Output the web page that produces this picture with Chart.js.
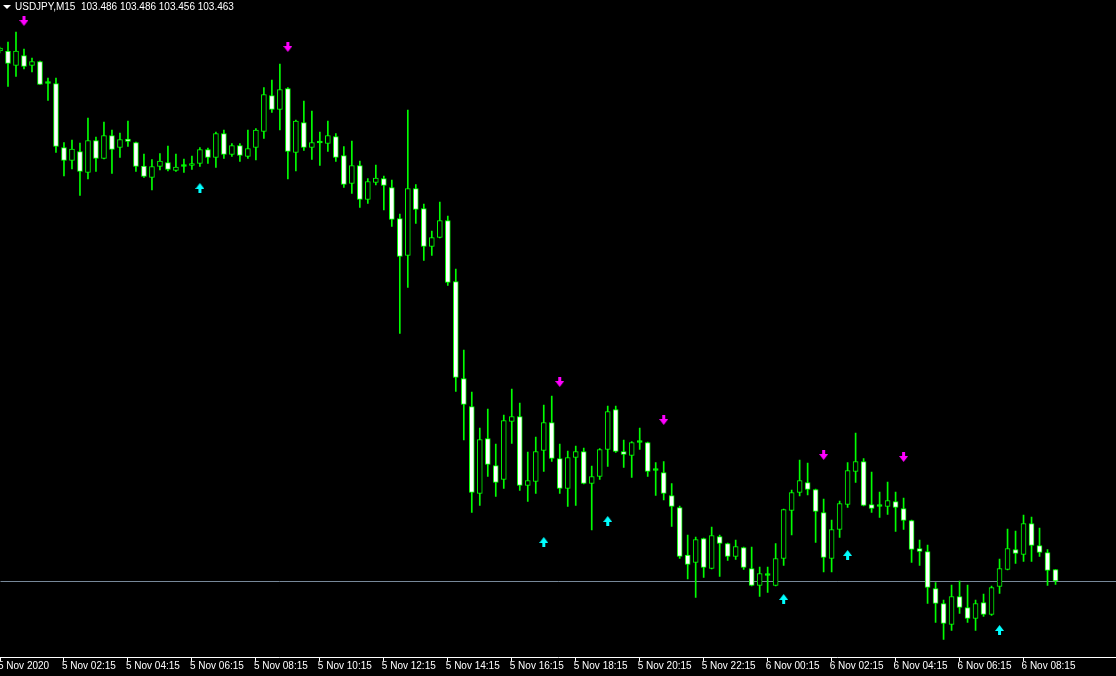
<!DOCTYPE html>
<html>
<head>
<meta charset="utf-8">
<title>USDJPY,M15</title>
<script src="https://cdn.jsdelivr.net/npm/chart.js@4.4.1/dist/chart.umd.min.js"></script>
<style>
  html, body { margin: 0; padding: 0; background: #000; overflow: hidden; }
  .chart { position: relative; width: 1116px; height: 676px; }
  .chart__header { position: absolute; left: 15px; top: 1px; color: #fff; font: 10px/12px 'Liberation Sans', Arial, sans-serif; white-space: pre; }
  .chart__menu { position: absolute; left: 3px; top: 5px; width: 0; height: 0; border-left: 4px solid transparent; border-right: 4px solid transparent; border-top: 4px solid #fff; }
</style>
</head>
<body>
<div class="chart">
  <canvas id="myChart" width="1116" height="676"></canvas>
  <span class="chart__menu"></span>
  <div class="chart__header">USDJPY,M15  103.486 103.486 103.456 103.463</div>
</div>
<script>
// M15 bars, first one (index -1) is 5 Nov 00:15
const firstBar = -1;

const opens = [
  104.523, 104.523, 104.494, 104.514, 104.494, 104.502, 104.458, 104.458, 104.330, 104.304,
  104.322, 104.280, 104.344, 104.308, 104.354, 104.330, 104.347, 104.340, 104.293, 104.270,
  104.292, 104.300, 104.284, 104.292, 104.294, 104.298, 104.326, 104.310, 104.358, 104.316,
  104.334, 104.312, 104.330, 104.362, 104.434, 104.406, 104.448, 104.320, 104.380, 104.330,
  104.339, 104.338, 104.352, 104.314, 104.258, 104.294, 104.226, 104.260, 104.268, 104.250,
  104.188, 104.114, 104.248, 104.208, 104.132, 104.150, 104.184, 104.062, 103.868, 103.812,
  103.638, 103.748, 103.694, 103.666, 103.782, 103.792, 103.654, 103.662, 103.724, 103.780,
  103.708, 103.648, 103.710, 103.722, 103.658, 103.672, 103.726, 103.806, 103.722, 103.714,
  103.740, 103.740, 103.684, 103.680, 103.634, 103.610, 103.515, 103.500, 103.548, 103.488,
  103.552, 103.538, 103.512, 103.530, 103.488, 103.454, 103.474, 103.454, 103.508, 103.604,
  103.640, 103.660, 103.646, 103.600, 103.508, 103.566, 103.616, 103.682, 103.702, 103.616,
  103.612, 103.612, 103.622, 103.608, 103.584, 103.528, 103.522, 103.448, 103.418, 103.376,
  103.432, 103.410, 103.388, 103.420, 103.396, 103.452, 103.486, 103.526, 103.516, 103.578,
  103.534, 103.520, 103.486,
];
const highs = [
  104.531, 104.541, 104.561, 104.527, 104.509, 104.503, 104.469, 104.469, 104.340, 104.345,
  104.339, 104.389, 104.351, 104.381, 104.365, 104.359, 104.383, 104.341, 104.317, 104.306,
  104.318, 104.333, 104.317, 104.307, 104.313, 104.330, 104.329, 104.361, 104.365, 104.338,
  104.338, 104.365, 104.368, 104.450, 104.465, 104.497, 104.450, 104.385, 104.423, 104.403,
  104.361, 104.383, 104.358, 104.332, 104.343, 104.303, 104.268, 104.295, 104.273, 104.265,
  104.197, 104.405, 104.256, 104.217, 104.163, 104.221, 104.193, 104.087, 103.925, 103.841,
  103.769, 103.807, 103.737, 103.795, 103.847, 103.819, 103.721, 103.751, 103.815, 103.833,
  103.737, 103.723, 103.733, 103.729, 103.693, 103.728, 103.813, 103.813, 103.745, 103.742,
  103.769, 103.741, 103.700, 103.702, 103.658, 103.613, 103.555, 103.551, 103.549, 103.571,
  103.555, 103.539, 103.545, 103.531, 103.531, 103.491, 103.491, 103.538, 103.607, 103.645,
  103.705, 103.699, 103.647, 103.627, 103.585, 103.623, 103.700, 103.759, 103.708, 103.681,
  103.641, 103.661, 103.641, 103.629, 103.585, 103.545, 103.535, 103.460, 103.425, 103.455,
  103.463, 103.455, 103.425, 103.437, 103.453, 103.507, 103.567, 103.563, 103.595, 103.591,
  103.569, 103.526, 103.486,
];
const lows = [
  104.519, 104.452, 104.472, 104.487, 104.481, 104.456, 104.424, 104.320, 104.273, 104.287,
  104.234, 104.267, 104.282, 104.307, 104.278, 104.310, 104.332, 104.282, 104.270, 104.245,
  104.285, 104.283, 104.282, 104.280, 104.286, 104.292, 104.298, 104.290, 104.308, 104.312,
  104.302, 104.308, 104.305, 104.348, 104.400, 104.365, 104.267, 104.283, 104.324, 104.306,
  104.294, 104.322, 104.302, 104.250, 104.238, 104.210, 104.218, 104.255, 104.205, 104.172,
  103.958, 104.050, 104.178, 104.104, 104.114, 104.149, 104.054, 103.842, 103.745, 103.600,
  103.614, 103.672, 103.632, 103.648, 103.738, 103.644, 103.622, 103.638, 103.682, 103.702,
  103.638, 103.612, 103.614, 103.657, 103.565, 103.666, 103.692, 103.720, 103.690, 103.670,
  103.726, 103.672, 103.634, 103.625, 103.572, 103.508, 103.467, 103.430, 103.470, 103.487,
  103.472, 103.504, 103.506, 103.486, 103.453, 103.432, 103.440, 103.453, 103.494, 103.555,
  103.633, 103.635, 103.540, 103.481, 103.481, 103.550, 103.610, 103.660, 103.613, 103.600,
  103.590, 103.596, 103.562, 103.566, 103.500, 103.494, 103.418, 103.380, 103.346, 103.364,
  103.398, 103.380, 103.364, 103.392, 103.394, 103.438, 103.485, 103.498, 103.502, 103.502,
  103.512, 103.454, 103.456,
];
const closes = [
  104.529, 104.498, 104.523, 104.492, 104.502, 104.456, 104.458, 104.332, 104.304, 104.327,
  104.282, 104.344, 104.308, 104.354, 104.326, 104.346, 104.342, 104.292, 104.272, 104.292,
  104.303, 104.286, 104.291, 104.292, 104.298, 104.326, 104.310, 104.358, 104.316, 104.334,
  104.314, 104.328, 104.365, 104.436, 104.406, 104.446, 104.322, 104.383, 104.330, 104.340,
  104.339, 104.354, 104.310, 104.256, 104.294, 104.226, 104.262, 104.269, 104.254, 104.186,
  104.112, 104.248, 104.206, 104.132, 104.150, 104.184, 104.060, 103.870, 103.816, 103.640,
  103.746, 103.696, 103.660, 103.784, 103.792, 103.654, 103.664, 103.722, 103.780, 103.708,
  103.648, 103.710, 103.722, 103.658, 103.672, 103.726, 103.802, 103.722, 103.716, 103.740,
  103.740, 103.682, 103.684, 103.638, 103.612, 103.512, 103.496, 103.546, 103.490, 103.554,
  103.538, 103.512, 103.532, 103.490, 103.454, 103.478, 103.474, 103.508, 103.606, 103.640,
  103.664, 103.646, 103.602, 103.510, 103.566, 103.618, 103.684, 103.702, 103.614, 103.608,
  103.612, 103.624, 103.610, 103.584, 103.526, 103.522, 103.450, 103.418, 103.378, 103.432,
  103.410, 103.388, 103.418, 103.396, 103.450, 103.488, 103.528, 103.518, 103.578, 103.534,
  103.520, 103.484, 103.463,
];

// signal arrows (bar index, price)
const downArrowBars = [2, 35, 69, 82, 102, 112];
const downArrowPrices = [104.583, 104.531, 103.861, 103.785, 103.715, 103.711];
const upArrowBars = [24, 67, 75, 97, 105, 124];
const upArrowPrices = [104.249, 103.541, 103.583, 103.427, 103.515, 103.365];

const bidPrice = 103.463;

const tickBars = [-1, 7, 15, 23, 31, 39, 47, 55, 63, 71, 79, 87, 95, 103, 111, 119, 127];
const tickLabels = [
  '5 Nov 2020', '5 Nov 02:15', '5 Nov 04:15', '5 Nov 06:15', '5 Nov 08:15', '5 Nov 10:15',
  '5 Nov 12:15', '5 Nov 14:15', '5 Nov 16:15', '5 Nov 18:15', '5 Nov 20:15', '5 Nov 22:15',
  '6 Nov 00:15', '6 Nov 02:15', '6 Nov 04:15', '6 Nov 06:15', '6 Nov 08:15',
];

const green = '#00ff00';
const ctx = document.getElementById('myChart').getContext('2d');

function makeArrow(color, up) {
  const c = document.createElement('canvas');
  c.width = 9;
  c.height = 10;
  const g = c.getContext('2d');
  g.fillStyle = color;
  if (up) { g.translate(0, 10); g.scale(1, -1); }
  g.fillRect(3, 0, 3, 5);
  g.beginPath();
  g.moveTo(0, 4);
  g.lineTo(9, 4);
  g.lineTo(4.5, 10);
  g.closePath();
  g.fill();
  return c;
}

function bodyColor(context) {
  const i = context.dataIndex;
  if (opens[i] === closes[i]) return green;
  return closes[i] < opens[i] ? '#ffffff' : '#000000';
}

const bodies = opens.map((o, i) => ({ x: firstBar + i, y: [o, closes[i]] }));
const wicks = lows.map((l, i) => ({ x: firstBar + i, y: [l, highs[i]] }));
const downArrows = downArrowBars.map((b, i) => ({ x: b, y: downArrowPrices[i] }));
const upArrows = upArrowBars.map((b, i) => ({ x: b, y: upArrowPrices[i] }));

new Chart(ctx, {
  type: 'bar',
  data: {
    datasets: [
      { type: 'scatter', data: downArrows, pointStyle: makeArrow('#ff00ff', false), pointRadius: 5 },
      { type: 'scatter', data: upArrows, pointStyle: makeArrow('#00ffff', true), pointRadius: 5 },
      {
        data: bodies,
        grouped: false,
        barThickness: 5,
        minBarLength: 2,
        borderWidth: 1,
        borderColor: green,
        borderSkipped: false,
        backgroundColor: bodyColor,
      },
      { data: wicks, grouped: false, barThickness: 1, borderWidth: 0, backgroundColor: green },
    ],
  },
  options: {
    responsive: false,
    animation: false,
    devicePixelRatio: 1,
    layout: { autoPadding: false, padding: { bottom: 5 } },
    plugins: { legend: { display: false }, tooltip: { enabled: false } },
    scales: {
      x: {
        type: 'linear',
        min: -0.9375,
        max: 138.5625,
        offset: false,
        afterBuildTicks: (scale) => { scale.ticks = tickBars.map((v) => ({ value: v })); },
        grid: { drawOnChartArea: false, offset: false, tickLength: 4, tickColor: '#ffffff' },
        border: { color: '#ffffff' },
        ticks: {
          autoSkip: false,
          maxRotation: 0,
          align: 'start',
          padding: 0,
          labelOffset: -2,
          color: '#ffffff',
          font: { family: "'Liberation Sans', Arial, sans-serif", size: 10, lineHeight: 1 },
          callback: (value, index) => tickLabels[index],
        },
      },
      y: {
        position: 'right',
        min: 103.311,
        max: 104.625,
        afterBuildTicks: (scale) => { scale.ticks = [{ value: bidPrice }]; },
        grid: { color: '#778899', drawTicks: false },
        border: { display: false },
        ticks: { display: false },
      },
    },
  },
});
</script>
</body>
</html>
